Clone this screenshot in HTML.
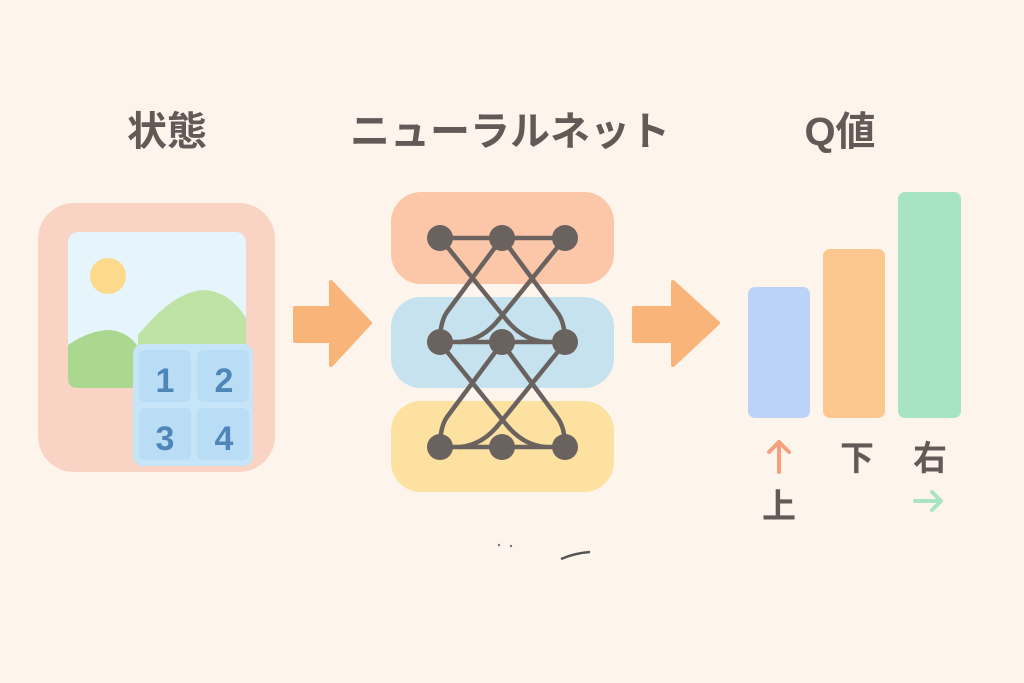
<!DOCTYPE html>
<html><head><meta charset="utf-8"><style>
html,body{margin:0;padding:0;background:#fdf5ec;}
svg{display:block}
text{font-family:"Liberation Sans","Noto Sans CJK JP",sans-serif;font-weight:bold;fill:#635a57}
</style></head><body>
<svg width="1024" height="683" viewBox="0 0 1024 683" xmlns="http://www.w3.org/2000/svg">
<rect width="1024" height="683" fill="#fdf5ec"/>
<text x="167" y="145" font-size="40" text-anchor="middle">状態</text>
<text x="510" y="145" font-size="40" text-anchor="middle">ニューラルネット</text>
<text x="840" y="145" font-size="40" text-anchor="middle">Q値</text>

<!-- state card -->
<rect x="38" y="203" width="237" height="269" rx="36" fill="#f9d3c3"/>
<rect x="68" y="232" width="178" height="156" rx="10" fill="#e6f4fc"/>
<circle cx="108" cy="276" r="18" fill="#fdd98c"/>
<path d="M138,335 Q175,290 205,290 Q230,292 246,318 L246,388 L138,388 Z" fill="#bfe3a5"/>
<path d="M68,345 Q90,330 110,330 Q130,332 140,350 L140,388 L78,388 Q68,388 68,378 Z" fill="#a9d88e"/>
<rect x="133" y="344" width="120" height="122" rx="10" fill="#c7e5f8"/>
<rect x="139" y="350" width="52" height="52" rx="6" fill="#b9ddf5"/>
<rect x="197" y="350" width="52" height="52" rx="6" fill="#b9ddf5"/>
<rect x="139" y="408" width="52" height="52" rx="6" fill="#b9ddf5"/>
<rect x="197" y="408" width="52" height="52" rx="6" fill="#b9ddf5"/>
<g font-size="34" text-anchor="middle">
<text x="165" y="392" style="fill:#4f86b8">1</text>
<text x="224" y="392" style="fill:#4f86b8">2</text>
<text x="165" y="450" style="fill:#4f86b8">3</text>
<text x="224" y="450" style="fill:#4f86b8">4</text>
</g>

<!-- arrows -->
<path d="M295,308 L331,308 L331,282 L370,323 L331,365 L331,341 L295,341 Z" fill="#f9b47a" stroke="#f9b47a" stroke-width="4" stroke-linejoin="round"/>
<path d="M634,308 L673,308 L673,282 L718,323 L673,365 L673,341 L634,341 Z" fill="#f9b47a" stroke="#f9b47a" stroke-width="4" stroke-linejoin="round"/>

<!-- network bands -->
<rect x="391" y="192" width="223" height="92" rx="30" fill="#fbc7a8"/>
<rect x="391" y="297" width="223" height="91" rx="30" fill="#c6e2ef"/>
<rect x="391" y="401" width="223" height="91" rx="30" fill="#fde1a0"/>

<g fill="none" stroke="#6a625f" stroke-width="4.5" stroke-linecap="round">
<path d="M440,238 H565 M440,342 H565 M440,447 H565"/>
<g id="conn">
<path d="M440,238 L505,318 Q522,340 545,342"/>
<path d="M502,238 L447,312 Q440,322 440,342"/>
<path d="M502,238 L557,312 Q565,322 565,342"/>
<path d="M565,238 L500,318 Q483,340 460,342"/>
</g>
<use href="#conn" transform="translate(0,105)"/>
</g>
<g fill="#6a625f">
<circle cx="440" cy="238" r="13"/><circle cx="502" cy="238" r="13"/><circle cx="565" cy="238" r="13"/>
<circle cx="440" cy="342" r="13"/><circle cx="502" cy="342" r="13"/><circle cx="565" cy="342" r="13"/>
<circle cx="440" cy="447" r="13"/><circle cx="502" cy="447" r="13"/><circle cx="565" cy="447" r="13"/>
</g>
<path d="M561,559 Q575,553 590,552" stroke="#555" stroke-width="2.5" fill="none"/>
<circle cx="499" cy="545" r="1.2" fill="#777"/><circle cx="511" cy="546" r="1.2" fill="#777"/>

<!-- bars -->
<rect x="748" y="287" width="62" height="131" rx="7" fill="#bdd2f7"/>
<rect x="823" y="249" width="62" height="169" rx="7" fill="#fcc88f"/>
<rect x="898" y="192" width="63" height="226" rx="7" fill="#a8e3c4"/>

<g stroke="#f6a080" stroke-width="4" fill="none" stroke-linecap="round" stroke-linejoin="round">
<path d="M779,472 V442 M769,452 L779,442 L789,452"/>
</g>
<g stroke="#a8e3c4" stroke-width="4" fill="none" stroke-linecap="round" stroke-linejoin="round">
<path d="M915,501 H941 M932,492 L941,501 L932,510"/>
</g>
<text x="779" y="518" font-size="34" text-anchor="middle">上</text>
<text x="857" y="470" font-size="34" text-anchor="middle">下</text>
<text x="930" y="470" font-size="34" text-anchor="middle">右</text>
</svg>
</body></html>
